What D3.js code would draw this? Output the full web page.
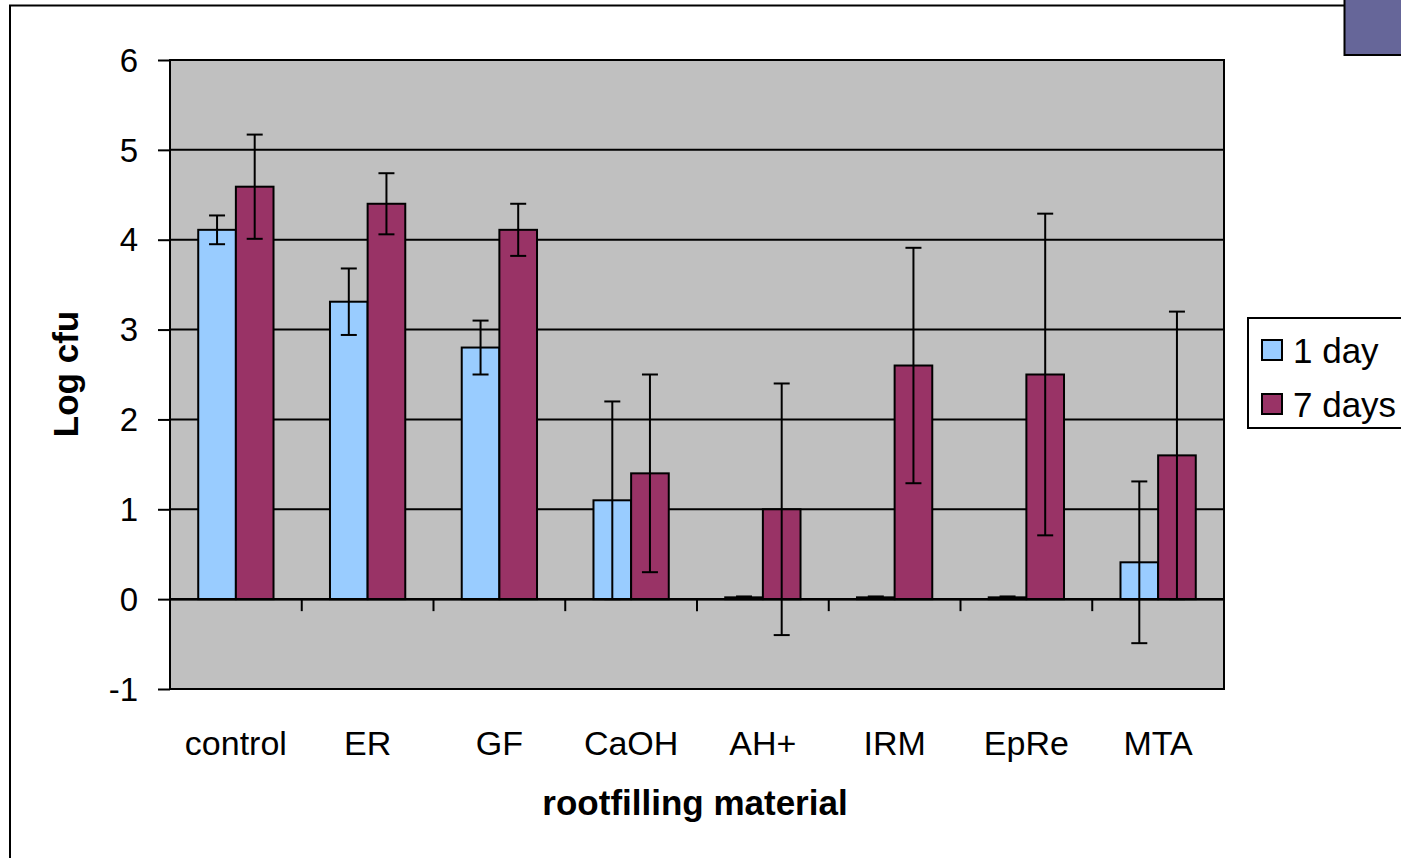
<!DOCTYPE html>
<html><head><meta charset="utf-8">
<script src="https://cdn.jsdelivr.net/npm/d3@7"></script>
<style>html,body{margin:0;padding:0;background:#fff;}svg{display:block;}</style>
</head><body>
<script>
const categories = ["control","ER","GF","CaOH","AH+","IRM","EpRe","MTA"];
const seriesNames = ["1 day","7 days"];
const day1 = [4.11, 3.31, 2.80, 1.10, 0.02, 0.02, 0.02, 0.41];
const day1Err = [0.16, 0.37, 0.30, 1.10, 0.01, 0.01, 0.01, 0.90];
const day7 = [4.59, 4.40, 4.11, 1.40, 1.00, 2.60, 2.50, 1.60];
const day7Err = [0.58, 0.34, 0.29, 1.10, 1.40, 1.31, 1.79, 1.60];
const yTicks = [-1,0,1,2,3,4,5,6];
const colors = ["#99ccff","#993366"];

const W=1401,H=858;
const svg=d3.select("body").append("svg").attr("width",W).attr("height",H);
const font="'Liberation Sans', Arial, sans-serif";

// outer chart border
svg.append("rect").attr("x",10).attr("y",5.5).attr("width",1420).attr("height",900)
  .attr("fill","#fff").attr("stroke","#000").attr("stroke-width",2);
// purple corner rect
svg.append("rect").attr("x",1344.5).attr("y",-5).attr("width",70).attr("height",60)
  .attr("fill","#666699").attr("stroke","#000").attr("stroke-width",2);

const L=170,R=1224,T=60,B=689;
const x=d3.scaleBand().domain(categories).range([L,R]);
const y=d3.scaleLinear().domain([-1,6]).range([B,T]);

svg.append("rect").attr("x",L).attr("y",T).attr("width",R-L).attr("height",B-T).attr("fill","#c0c0c0");

// gridlines
svg.append("g").selectAll("line").data(yTicks.filter(d=>d!==-1&&d!==6)).join("line")
  .attr("x1",L).attr("x2",R).attr("y1",d=>y(d)).attr("y2",d=>y(d))
  .attr("stroke","#000").attr("stroke-width",2);

// y axis
const ya=svg.append("g").attr("transform",`translate(${L},0)`)
  .call(d3.axisLeft(y).tickValues(yTicks).tickSize(12).tickPadding(20).tickFormat(d=>String(d)));
ya.select(".domain").remove();
ya.selectAll("line").attr("stroke","#000").attr("stroke-width",2);
ya.selectAll("text").attr("font-family",font).attr("font-size",33).attr("fill","#000").attr("dy","0.34em");

// plot border
svg.append("rect").attr("x",L).attr("y",T).attr("width",R-L).attr("height",B-T)
  .attr("fill","none").attr("stroke","#000").attr("stroke-width",2);

const bw=x.bandwidth()/3.5;
const off=x.bandwidth()*0.75/3.5;
const series=[day1,day7],errs=[day1Err,day7Err];

series.forEach((vals,si)=>{
  const g=svg.append("g");
  g.selectAll("rect").data(vals).join("rect")
    .attr("x",(d,i)=>x(categories[i])+off+si*bw)
    .attr("y",d=>y(Math.max(d,0)))
    .attr("width",bw)
    .attr("height",d=>Math.abs(y(d)-y(0)))
    .attr("fill",colors[si]).attr("stroke","#000").attr("stroke-width",2);
});

// zero axis line with ticks
svg.append("line").attr("x1",L).attr("x2",R).attr("y1",y(0)).attr("y2",y(0)).attr("stroke","#000").attr("stroke-width",2.5);
svg.append("g").selectAll("line").data(categories.slice(1)).join("line")
  .attr("x1",d=>x(d)).attr("x2",d=>x(d)).attr("y1",y(0)).attr("y2",y(0)+12)
  .attr("stroke","#000").attr("stroke-width",2);

// error bars
series.forEach((vals,si)=>{
  const g=svg.append("g").attr("stroke","#000").attr("stroke-width",2);
  vals.forEach((v,i)=>{
    const cx=x(categories[i])+off+si*bw+bw/2;
    const e=errs[si][i];
    const y1=y(v+e),y2=y(v-e);
    g.append("line").attr("x1",cx).attr("x2",cx).attr("y1",y1).attr("y2",y2);
    g.append("line").attr("x1",cx-8).attr("x2",cx+8).attr("y1",y1).attr("y2",y1);
    g.append("line").attr("x1",cx-8).attr("x2",cx+8).attr("y1",y2).attr("y2",y2);
  });
});

// x labels
svg.append("g").selectAll("text").data(categories).join("text")
  .attr("x",d=>x(d)+x.bandwidth()/2).attr("y",755).attr("text-anchor","middle")
  .attr("font-family",font).attr("font-size",34).text(d=>d);

svg.append("text").attr("x",695).attr("y",815).attr("text-anchor","middle")
  .attr("font-family",font).attr("font-size",35).attr("font-weight","bold").text("rootfilling material");
svg.append("text").attr("transform","translate(78,374) rotate(-90)").attr("text-anchor","middle")
  .attr("font-family",font).attr("font-size",35).attr("font-weight","bold").text("Log cfu");

// legend
svg.append("rect").attr("x",1248).attr("y",318).attr("width",200).attr("height",110)
  .attr("fill","#fff").attr("stroke","#000").attr("stroke-width",2);
seriesNames.forEach((n,i)=>{
  svg.append("rect").attr("x",1262).attr("y",340+i*54).attr("width",20).attr("height",20)
    .attr("fill",colors[i]).attr("stroke","#000").attr("stroke-width",2);
  svg.append("text").attr("x",1293).attr("y",363+i*54).attr("font-family",font).attr("font-size",35).text(n);
});
</script>
</body></html>
